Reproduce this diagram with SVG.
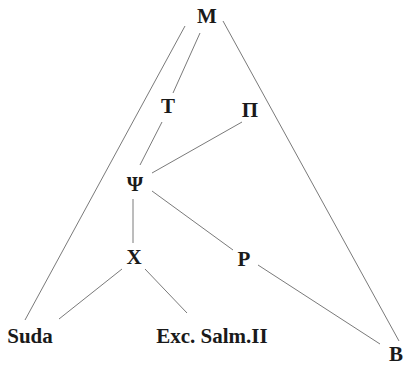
<svg xmlns="http://www.w3.org/2000/svg" width="405" height="367" viewBox="0 0 405 367">
  <style>
    .lbl { font-family: "Liberation Serif", "Times New Roman", serif; font-weight: bold; font-size: 21px; fill: #1a1a1a; text-anchor: middle; }
    .edge { stroke: #7a7a7a; stroke-width: 1; fill: none; }
  </style>
  <rect width="405" height="367" fill="#ffffff"/>
  <g id="connectors">
    <line class="edge" x1="185" y1="26" x2="25" y2="320"/>
    <line class="edge" x1="200" y1="33" x2="173" y2="93"/>
    <line class="edge" x1="162" y1="122" x2="140" y2="165"/>
    <line class="edge" x1="242" y1="122" x2="152" y2="173"/>
    <line class="edge" x1="223" y1="21" x2="399" y2="341"/>
    <line class="edge" x1="133" y1="199" x2="133" y2="243"/>
    <line class="edge" x1="152" y1="191" x2="233" y2="250"/>
    <line class="edge" x1="258" y1="265" x2="380" y2="344"/>
    <line class="edge" x1="122" y1="269" x2="59" y2="319"/>
    <line class="edge" x1="145" y1="269" x2="187" y2="313"/>
  </g>
  <g id="node-M"><text class="lbl" x="207" y="23">M</text></g>
  <g id="node-T"><text class="lbl" x="168" y="113">T</text></g>
  <g id="node-Pi"><text class="lbl" x="250" y="117">Π</text></g>
  <g id="node-Psi"><text class="lbl" x="135" y="191">Ψ</text></g>
  <g id="node-X"><text class="lbl" x="134" y="264">X</text></g>
  <g id="node-P"><text class="lbl" x="244" y="266">P</text></g>
  <g id="node-Suda"><text class="lbl" x="30" y="343">Suda</text></g>
  <g id="node-Exc"><text class="lbl" x="212" y="343">Exc. Salm.II</text></g>
  <g id="node-B"><text class="lbl" x="396" y="361">B</text></g>
</svg>
